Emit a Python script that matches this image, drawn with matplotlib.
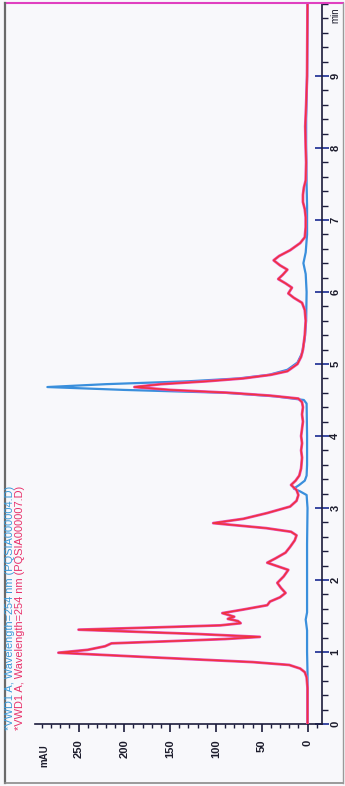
import matplotlib
matplotlib.use("Agg")
import matplotlib.pyplot as plt
from matplotlib.lines import Line2D
from matplotlib.ticker import MultipleLocator

plt.rcParams['font.family'] = ['Liberation Sans', 'DejaVu Sans']

# retention time (min) / absorbance (mAU), run PQSIA000004
t_blue = [0.0, 0.7, 1.0, 1.3, 1.45, 1.55, 2.0, 2.5, 3.0, 3.18, 3.23, 3.27, 3.32, 3.38,
          3.45, 3.6, 4.0, 4.45, 4.5, 4.55, 4.6, 4.64, 4.68, 4.72, 4.76, 4.8, 4.85, 4.92,
          5.02, 5.15, 5.35, 5.6, 6.0, 6.25, 6.4, 6.55, 6.8, 7.2, 7.5, 8.0, 8.4, 9.0, 10.0]
a_blue = [0.0, 0.0, 0.5, 0.5, 2.0, 0.5, 0.5, 0.5, 0.0, 1.0, 8.0, 15.0, 9.0, 3.0,
          1.0, 0.5, 0.5, 1.0, 4.0, 35.0, 90.0, 200.0, 284.0, 220.0, 130.0, 75.0, 42.0, 22.0,
          11.0, 6.0, 3.0, 1.5, 1.0, 2.0, 4.5, 2.0, 0.5, 0.5, 1.0, 1.5, 1.5, 0.5, 0.0]

# run PQSIA000007
t_red = [0.0, 0.5, 0.65, 0.72, 0.77, 0.82, 0.86, 0.92, 0.99, 1.03, 1.08, 1.12, 1.15, 1.18,
         1.21, 1.25, 1.31, 1.34, 1.37, 1.4, 1.43, 1.46, 1.49, 1.54, 1.59, 1.65, 1.7, 1.76,
         1.82, 1.89, 1.96, 2.05, 2.14, 2.24, 2.3, 2.38, 2.46, 2.55, 2.62, 2.67, 2.72, 2.79,
         2.85, 2.93, 3.02, 3.1, 3.18, 3.25, 3.32, 3.38, 3.45, 3.55, 3.7, 3.8, 3.9, 4.0,
         4.1, 4.2, 4.3, 4.4, 4.47, 4.52, 4.56, 4.6, 4.64, 4.68, 4.72, 4.76, 4.8, 4.85,
         4.9, 5.0, 5.1, 5.2, 5.4, 5.6, 5.75, 5.85, 5.92, 5.98, 6.06, 6.12, 6.18, 6.24,
         6.31, 6.37, 6.44, 6.5, 6.58, 6.68, 6.76, 6.9, 7.04, 7.15, 7.25, 7.35, 7.45, 7.55,
         7.8, 8.0, 8.3, 8.6, 9.0, 10.0]
a_red = [0.0, 0.0, 1.0, 3.0, 8.0, 20.0, 60.0, 160.0, 272.0, 240.0, 221.0, 214.0, 150.0, 90.0,
         52.0, 120.0, 250.0, 170.0, 95.0, 73.0, 76.0, 87.0, 80.0, 93.0, 70.0, 44.0, 41.0, 30.0,
         24.0, 29.0, 33.0, 26.0, 21.0, 44.0, 35.0, 24.0, 19.0, 14.0, 12.0, 18.0, 45.0, 103.0,
         70.0, 44.0, 19.0, 12.0, 10.0, 12.0, 18.0, 13.0, 9.0, 7.0, 6.0, 7.0, 6.0, 7.0,
         6.0, 5.0, 6.0, 5.0, 6.0, 10.0, 40.0, 85.0, 150.0, 189.0, 160.0, 110.0, 70.0, 40.0,
         22.0, 11.0, 7.0, 5.0, 3.0, 2.0, 3.0, 6.0, 15.0, 21.0, 17.0, 24.0, 32.0, 27.0,
         22.0, 30.0, 37.0, 31.0, 19.0, 8.0, 3.0, 2.0, 2.0, 3.0, 5.0, 5.0, 4.0, 2.0,
         1.5, 2.0, 2.5, 1.5, 0.5, 0.0]

legend_blue = "*VWD1 A, Wavelength=254 nm (PQSIA000004.D)"
legend_red = "*VWD1 A, Wavelength=254 nm (PQSIA000007.D)"

W, H = 345, 786
fig = plt.figure(figsize=(W / 100, H / 100), dpi=100)
fig.patch.set_facecolor('#f8f8fb')

# chromatogram turned on its side: time runs upward, absorbance to the left
ax = fig.add_axes([35 / W, 62 / H, 287 / W, 720 / H])
ax.set_facecolor('none')
ax.plot(a_blue, t_blue, color='#3a8fdc', lw=1.6, zorder=2)
ax.plot(a_red, t_red, color='#e84cb8', lw=2.0, zorder=3)
ax.plot(a_red, t_red, color='#f0343c', lw=1.1, zorder=4)

ax.set_xlim(297.5, -15.8)
ax.set_ylim(0, 10)

for s in ['top', 'left']:
    ax.spines[s].set_visible(False)
ax.spines['bottom'].set_color('#1c1c3c')
ax.spines['right'].set_color('#1c1c3c')
ax.spines['bottom'].set_linewidth(1.2)
ax.spines['right'].set_linewidth(1.2)

ax.yaxis.tick_right()
ax.xaxis.set_major_locator(MultipleLocator(50))
ax.xaxis.set_minor_locator(MultipleLocator(10))
ax.yaxis.set_major_locator(MultipleLocator(1))
ax.yaxis.set_minor_locator(MultipleLocator(0.2))
ax.set_yticks(range(0, 10))

ax.tick_params(axis='x', which='major', direction='out', length=6, width=1.2,
               color='#1c1c3c', pad=5, labelsize=8, labelcolor='#1c1c2c', labelrotation=90)
ax.tick_params(axis='x', which='minor', direction='out', length=3, width=1.0, color='#1c1c3c')
ax.tick_params(axis='y', which='major', direction='inout', length=10, width=1.3,
               color='#2a3a9a', pad=1, labelsize=8, labelcolor='#1c1c2c', labelrotation=90)
ax.tick_params(axis='y', which='minor', direction='out', length=4, width=1.0, color='#1c1c3c')
for lab in ax.get_yticklabels():
    lab.set_va('center')
for lab in ax.get_xticklabels() + ax.get_yticklabels():
    lab.set_fontweight('bold')

fig.text(335 / W, 1 - 15 / H, 'min', rotation=90, ha='center', va='center',
         fontsize=7, color='#1c1c2c')
fig.text(44 / W, 1 - 756 / H, 'mAU', rotation=90, ha='center', va='center',
         fontsize=7, fontweight='bold', color='#1c1c2c')

fig.text(10 / W, 1 - 730 / H, legend_blue, rotation=90, ha='center', va='bottom',
         fontsize=7.9, color='#3a9ad9')
fig.text(20 / W, 1 - 730 / H, legend_red, rotation=90, ha='center', va='bottom',
         fontsize=7.9, color='#e8306a')

# page frame
def fline(x0, y0, x1, y1, color, lw):
    fig.add_artist(Line2D([x0 / W, x1 / W], [1 - y0 / H, 1 - y1 / H],
                          color=color, lw=lw, transform=fig.transFigure))

fline(5, 3, 343, 3, '#e040c0', 1.5)
fline(5, 3, 5, 783, '#6a6a6a', 1.6)
fline(5, 783, 343, 783, '#8a8a8a', 1.2)
fline(343, 3, 343, 783, '#9a9a9a', 1.0)

fig.savefig('out.png', dpi=100, facecolor=fig.get_facecolor())
